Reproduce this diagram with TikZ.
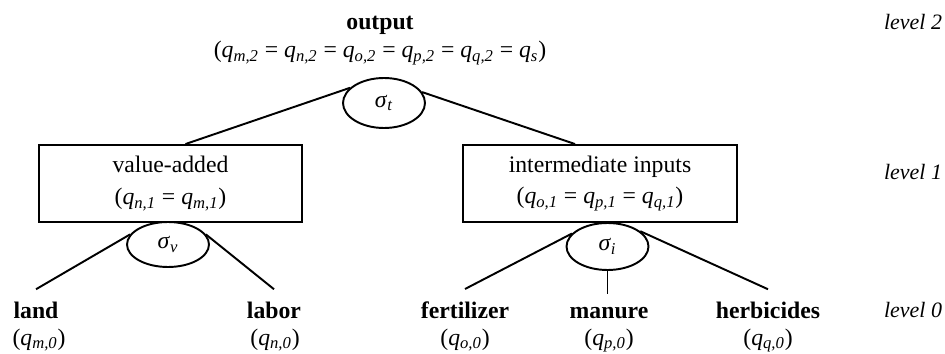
\documentclass[tikz,border=0pt]{standalone}
\usepackage{fontspec}
\setmainfont{Liberation Serif}
\usetikzlibrary{shapes.geometric, positioning}
\newcommand{\qv}[1]{\textit{q}\textsubscript{\textit{#1}}}
\newcommand{\sg}[1]{\textit{σ}\textsubscript{\textit{#1}}}

\begin{document}
\begin{tikzpicture}[x=0.02cm, y=-0.02cm, line width=1.1pt,
    every node/.style={font=\fontsize{13.5}{16}\selectfont},
    nest/.style={draw, ellipse, minimum width=1.64cm, minimum height=0.9cm, inner sep=0pt},
    nestbox/.style={draw, rectangle, align=center, minimum height=1.54cm, font=\fontsize{13.5}{18}\selectfont},
    leaf/.style={anchor=base, inner sep=1pt, outer sep=6pt, font=\fontsize{13.5}{16}\selectfont\bfseries},
    leafq/.style={anchor=base, inner sep=1pt},
    lvl/.style={anchor=east, inner sep=0pt, font=\fontsize{12.5}{14}\selectfont\itshape}]
  \useasboundingbox (0,0) rectangle (945,354);

  % level 2
  \node[anchor=base] (out) at (380,30) {\textbf{output}};
  \node[anchor=base] (outq) at (380,58) {(\qv{m,2} = \qv{n,2} = \qv{o,2} = \qv{p,2} = \qv{q,2} = \qv{s})};
  \node[nest, minimum height=1cm] (sigt) at (384,103) {\sg{t}};

  % level 1
  \node[nestbox, minimum width=5.26cm] (va) at (170.5,183.5) {value-added\\(\qv{n,1} = \qv{m,1})};
  \node[nestbox, minimum width=5.48cm] (ii) at (600,183.5) {intermediate inputs\\(\qv{o,1} = \qv{p,1} = \qv{q,1})};
  \node[nest] (sigv) at (168,244.5) {\sg{v}};
  \node[nest, minimum height=0.94cm] (sigi) at (607.5,246.5) {\sg{i}};

  % level 0
  \node[leaf] (land) at (36,318) {land};
  \node[leaf] (labor) at (274,318) {labor};
  \node[leaf] (fert) at (465,318) {fertilizer};
  \node[leaf] (man) at (609,318) {manure};
  \node[leaf] (herb) at (768,318) {herbicides};
  \node[leafq] (landq) at (39,345) {(\qv{m,0})};
  \node[leafq] (laborq) at (275,345) {(\qv{n,0})};
  \node[leafq] (fertq) at (465,345) {(\qv{o,0})};
  \node[leafq] (manq) at (609,345) {(\qv{p,0})};
  \node[leafq] (herbq) at (768,345) {(\qv{q,0})};

  \draw (sigt.156) -- ([xshift=0.3cm]va.north);
  \draw (sigt.16) -- ([xshift=-0.5cm]ii.north);
  \draw (sigv.165) -- (land.north);
  \draw (sigv.15) -- (labor.north);
  \draw (sigi.160) -- (fert.north);
  \draw (sigi.south) -- (sigi.south |- man.north);
  \draw (sigi.25) -- (herb.north);

  \node[lvl] (l2) at (943,22) {level 2};
  \node[lvl] (l1) at (943,172) {level 1};
  \node[lvl] (l0) at (943,310) {level 0};
\end{tikzpicture}
\end{document}
